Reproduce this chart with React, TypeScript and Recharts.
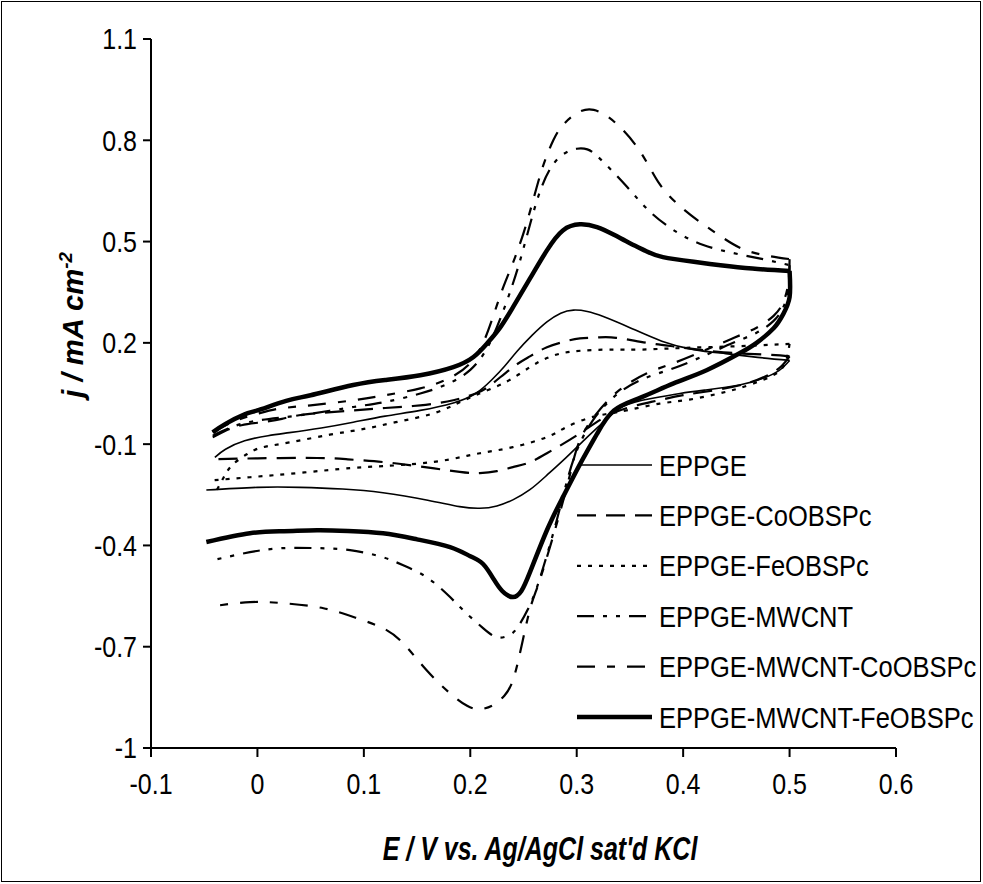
import React from 'react';
import { ComposedChart, Line, XAxis, YAxis } from 'recharts';

// E (V vs Ag/AgCl) , j (mA cm-2).
// every curve = forward sweep (-0.05 -> 0.5 V) + reverse sweep (0.5 -> -0.05 V)
const eppgeFwd = [
  [-0.04, -0.139], [-0.03, -0.115], [-0.012, -0.09], [0.01, -0.075], [0.03, -0.066], [0.06, -0.052],
  [0.09, -0.035], [0.12, -0.017], [0.153, 0.0], [0.184, 0.022], [0.205, 0.05], [0.22, 0.09],
  [0.232, 0.13], [0.244, 0.175], [0.258, 0.222], [0.272, 0.262], [0.285, 0.288], [0.297, 0.297],
  [0.31, 0.293], [0.325, 0.278], [0.35, 0.245], [0.38, 0.205], [0.41, 0.18], [0.44, 0.168],
  [0.47, 0.157], [0.5, 0.148],
];
const eppgeRev = [
  [0.5, 0.148], [0.49, 0.118], [0.475, 0.095], [0.453, 0.075], [0.42, 0.06], [0.397, 0.05],
  [0.37, 0.035], [0.344, 0.012], [0.325, -0.035], [0.308, -0.085], [0.29, -0.14], [0.272, -0.192],
  [0.256, -0.235], [0.24, -0.265], [0.225, -0.283], [0.209, -0.29], [0.19, -0.285], [0.16, -0.266],
  [0.118, -0.244], [0.08, -0.233], [0.04, -0.228], [0.0, -0.228], [-0.048, -0.236],
];

const coFwd = [
  [-0.042, -0.08], [-0.03, -0.06], [-0.015, -0.044], [0.004, -0.035], [0.023, -0.025], [0.045, -0.012],
  [0.09, 0.0], [0.12, 0.007], [0.153, 0.015], [0.184, 0.03], [0.205, 0.05], [0.219, 0.075],
  [0.24, 0.128], [0.256, 0.16], [0.272, 0.187], [0.29, 0.205], [0.303, 0.213], [0.32, 0.216],
  [0.337, 0.215], [0.366, 0.2], [0.397, 0.187], [0.438, 0.172], [0.479, 0.165], [0.5, 0.16],
];
const coRev = [
  [0.5, 0.16], [0.492, 0.13], [0.48, 0.105], [0.46, 0.08], [0.43, 0.06], [0.4, 0.045],
  [0.37, 0.025], [0.334, -0.008], [0.303, -0.068], [0.272, -0.127], [0.255, -0.155], [0.24, -0.168],
  [0.225, -0.18], [0.209, -0.186], [0.19, -0.182], [0.15, -0.165], [0.118, -0.153], [0.085, -0.145],
  [0.056, -0.141], [0.0, -0.142], [-0.045, -0.145],
];

const feFwd = [
  [-0.038, -0.235], [-0.032, -0.2], [-0.024, -0.163], [-0.01, -0.13], [0.004, -0.11], [0.03, -0.095],
  [0.068, -0.072], [0.1, -0.055], [0.13, -0.035], [0.162, -0.012], [0.184, 0.015], [0.205, 0.045],
  [0.234, 0.085], [0.256, 0.128], [0.272, 0.155], [0.287, 0.17], [0.305, 0.177], [0.33, 0.18],
  [0.36, 0.18], [0.4, 0.185], [0.45, 0.19], [0.5, 0.197],
];
const feRev = [
  [0.5, 0.197], [0.497, 0.15], [0.49, 0.115], [0.474, 0.089], [0.453, 0.066], [0.435, 0.051],
  [0.406, 0.032], [0.378, 0.02], [0.35, 0.002], [0.33, -0.01], [0.312, -0.022], [0.29, -0.05],
  [0.272, -0.079], [0.24, -0.109], [0.209, -0.127], [0.181, -0.145], [0.15, -0.158], [0.118, -0.165],
  [0.087, -0.171], [0.04, -0.185], [-0.007, -0.198], [-0.042, -0.207],
];

const mwFwd = [
  [-0.042, -0.075], [-0.02, -0.045], [0.0, -0.03], [0.02, -0.022], [0.05, -0.01], [0.09, 0.01],
  [0.12, 0.025], [0.153, 0.05], [0.18, 0.08], [0.2, 0.12], [0.215, 0.18], [0.228, 0.27],
  [0.24, 0.375], [0.25, 0.48], [0.263, 0.625], [0.275, 0.715], [0.287, 0.758], [0.3, 0.775],
  [0.31, 0.773], [0.322, 0.745], [0.347, 0.663], [0.369, 0.588], [0.394, 0.528], [0.419, 0.49],
  [0.447, 0.466], [0.475, 0.448], [0.5, 0.43],
];
const mwRev = [
  [0.5, 0.43], [0.499, 0.36], [0.494, 0.305], [0.485, 0.265], [0.469, 0.23], [0.447, 0.2],
  [0.422, 0.165], [0.391, 0.125], [0.36, 0.09], [0.335, 0.04], [0.315, -0.03], [0.3, -0.12],
  [0.29, -0.22], [0.28, -0.34], [0.27, -0.45], [0.262, -0.53], [0.254, -0.59], [0.245, -0.64],
  [0.237, -0.665], [0.225, -0.672], [0.212, -0.645], [0.196, -0.6], [0.181, -0.553], [0.159, -0.494],
  [0.137, -0.459], [0.118, -0.435], [0.087, -0.414], [0.056, -0.408], [0.024, -0.408], [-0.007, -0.42],
  [-0.045, -0.446],
];

const mwCoFwd = [
  [-0.042, -0.065], [-0.02, -0.03], [0.0, -0.01], [0.02, 0.005], [0.05, 0.015], [0.09, 0.03],
  [0.12, 0.045], [0.153, 0.065], [0.18, 0.095], [0.2, 0.14], [0.212, 0.2], [0.22, 0.265],
  [0.231, 0.365], [0.24, 0.436], [0.25, 0.525], [0.259, 0.622], [0.268, 0.72], [0.278, 0.8],
  [0.287, 0.845], [0.3, 0.88], [0.316, 0.89], [0.337, 0.85], [0.36, 0.765], [0.378, 0.67],
  [0.397, 0.605], [0.415, 0.56], [0.438, 0.51], [0.463, 0.47], [0.5, 0.448],
];
const mwCoRev = [
  [0.5, 0.448], [0.499, 0.38], [0.494, 0.32], [0.485, 0.28], [0.469, 0.245], [0.447, 0.214],
  [0.422, 0.18], [0.391, 0.14], [0.366, 0.11], [0.34, 0.06], [0.319, -0.008], [0.303, -0.088],
  [0.294, -0.186], [0.284, -0.305], [0.272, -0.435], [0.263, -0.524], [0.256, -0.59], [0.248, -0.7],
  [0.24, -0.8], [0.232, -0.845], [0.222, -0.872], [0.209, -0.885], [0.197, -0.875], [0.181, -0.838],
  [0.159, -0.77], [0.137, -0.69], [0.118, -0.645], [0.094, -0.616], [0.062, -0.586], [0.024, -0.571],
  [-0.007, -0.568], [-0.042, -0.58],
];

const mwFeFwd = [
  [-0.042, -0.065], [-0.03, -0.04], [-0.012, -0.012], [0.0, 0.0], [0.027, 0.028], [0.05, 0.045],
  [0.09, 0.075], [0.12, 0.09], [0.153, 0.104], [0.184, 0.128], [0.203, 0.158], [0.216, 0.199],
  [0.228, 0.245], [0.24, 0.305], [0.256, 0.39], [0.272, 0.474], [0.287, 0.533], [0.303, 0.551],
  [0.319, 0.543], [0.335, 0.52], [0.35, 0.495], [0.365, 0.472], [0.381, 0.454], [0.41, 0.44],
  [0.435, 0.43], [0.465, 0.42], [0.5, 0.413],
];
const mwFeRev = [
  [0.5, 0.413], [0.5, 0.335], [0.494, 0.285], [0.485, 0.243], [0.469, 0.2], [0.453, 0.169],
  [0.422, 0.119], [0.391, 0.08], [0.36, 0.038], [0.335, 0.0], [0.319, -0.07], [0.303, -0.16],
  [0.287, -0.257], [0.272, -0.355], [0.256, -0.48], [0.248, -0.535], [0.24, -0.553], [0.23, -0.535],
  [0.222, -0.5], [0.212, -0.455], [0.2, -0.432], [0.181, -0.405], [0.15, -0.382], [0.118, -0.364],
  [0.085, -0.357], [0.056, -0.355], [0.025, -0.358], [-0.007, -0.364], [-0.048, -0.39],
];

const seriesNames = [
  'EPPGE',
  'EPPGE-CoOBSPc',
  'EPPGE-FeOBSPc',
  'EPPGE-MWCNT',
  'EPPGE-MWCNT-CoOBSPc',
  'EPPGE-MWCNT-FeOBSPc',
];
const sweeps = [
  [eppgeFwd, eppgeRev],
  [coFwd, coRev],
  [feFwd, feRev],
  [mwFwd, mwRev],
  [mwCoFwd, mwCoRev],
  [mwFeFwd, mwFeRev],
];
const xTicks = [-0.1, 0, 0.1, 0.2, 0.3, 0.4, 0.5, 0.6];
const yTicks = [-1, -0.7, -0.4, -0.1, 0.2, 0.5, 0.8, 1.1];

// line look per series (black & white excel style)
const lineStyles = [
  { width: 1.6, dash: undefined },
  { width: 2.2, dash: '19 10' },
  { width: 2.2, dash: '4 7' },
  { width: 2.2, dash: '17 9 4 9 4 9' },
  { width: 2.2, dash: '18 12 8 12' },
  { width: 4.5, dash: undefined },
];

const FONT = 'Arial, "Liberation Sans", sans-serif';
// the original picture is a bit stretched vertically, so text is too
const TEXT_STRETCH = 1.16;
const TITLE_STRETCH = 1.3;

const toPoints = (arr: number[][]) => arr.map(([x, y]) => ({ x, y }));

const XTick = (props: any) => {
  const { x, y, payload } = props;
  return (
    <text
      transform={`translate(${x},${y}) scale(1,${TEXT_STRETCH})`}
      dy="0.71em"
      textAnchor="middle"
      fontSize={25}
      fontFamily={FONT}
      fill="#000"
    >
      {payload.value}
    </text>
  );
};

const YTick = (props: any) => {
  const { x, y, payload } = props;
  return (
    <text
      transform={`translate(${x},${y}) scale(1,${TEXT_STRETCH})`}
      dy="0.36em"
      textAnchor="end"
      fontSize={25}
      fontFamily={FONT}
      fill="#000"
    >
      {payload.value}
    </text>
  );
};

export default function App() {
  return (
    <div style={{ position: 'absolute', left: 0, top: 0, width: 983, height: 884, background: '#fff' }}>
      <div
        style={{
          position: 'absolute',
          left: 1,
          top: 1,
          width: 978,
          height: 879,
          border: '1.5px solid #000',
        }}
      />
      <ComposedChart
        width={983}
        height={884}
        margin={{ top: 39, right: 87, bottom: 76, left: 71 }}
        style={{ position: 'absolute', left: 0, top: 0 }}
      >
        <XAxis
          dataKey="x"
          type="number"
          domain={[-0.1, 0.6]}
          ticks={xTicks}
          allowDataOverflow
          height={60}
          tickSize={9}
          tickMargin={16}
          axisLine={{ stroke: '#000', strokeWidth: 2 }}
          tickLine={{ stroke: '#000', strokeWidth: 2 }}
          tick={<XTick />}
        />
        <YAxis
          dataKey="y"
          type="number"
          domain={[-1, 1.1]}
          ticks={yTicks}
          allowDataOverflow
          width={80}
          tickSize={8}
          tickMargin={6}
          axisLine={{ stroke: '#000', strokeWidth: 2 }}
          tickLine={{ stroke: '#000', strokeWidth: 2 }}
          tick={<YTick />}
        />
        {sweeps.map((pair, i) =>
          pair.map((arr, k) => (
            <Line
              key={`${seriesNames[i]}-${k}`}
              name={seriesNames[i]}
              data={toPoints(arr)}
              dataKey="y"
              type="natural"
              stroke="#000"
              strokeWidth={lineStyles[i].width}
              strokeDasharray={lineStyles[i].dash}
              dot={false}
              activeDot={false}
              legendType="none"
              isAnimationActive={false}
            />
          ))
        )}
      </ComposedChart>

      {/* legend + axis titles */}
      <svg width={983} height={884} style={{ position: 'absolute', left: 0, top: 0, pointerEvents: 'none' }}>
        {seriesNames.map((name, i) => {
          const cy = 465 + i * 50.4;
          return (
            <g key={name}>
              <line
                x1={i === 0 ? 580 : 577}
                x2={652}
                y1={cy}
                y2={cy}
                stroke="#000"
                strokeWidth={lineStyles[i].width}
                strokeDasharray={lineStyles[i].dash}
              />
              <text
                transform={`translate(659,${cy}) scale(1,${TEXT_STRETCH})`}
                dy="0.36em"
                fontSize={25.5}
                fontFamily={FONT}
                fill="#000"
              >
                {name}
              </text>
            </g>
          );
        })}
        <text
          transform={`translate(540,848) scale(1,${TITLE_STRETCH})`}
          dy="0.36em"
          textAnchor="middle"
          fontSize={25}
          fontWeight="bold"
          fontStyle="italic"
          fontFamily={FONT}
          fill="#000"
        >
          E / V vs. Ag/AgCl sat'd KCl
        </text>
        <text
          transform="translate(73,325) scale(1.15,1.17) rotate(-90)"
          textAnchor="middle"
          dy="0.36em"
          fontSize={25}
          fontWeight="bold"
          fontStyle="italic"
          fontFamily={FONT}
          fill="#000"
        >
          j / mA cm
          <tspan fontSize={16} dy={-10}>
            -2
          </tspan>
        </text>
      </svg>
    </div>
  );
}
